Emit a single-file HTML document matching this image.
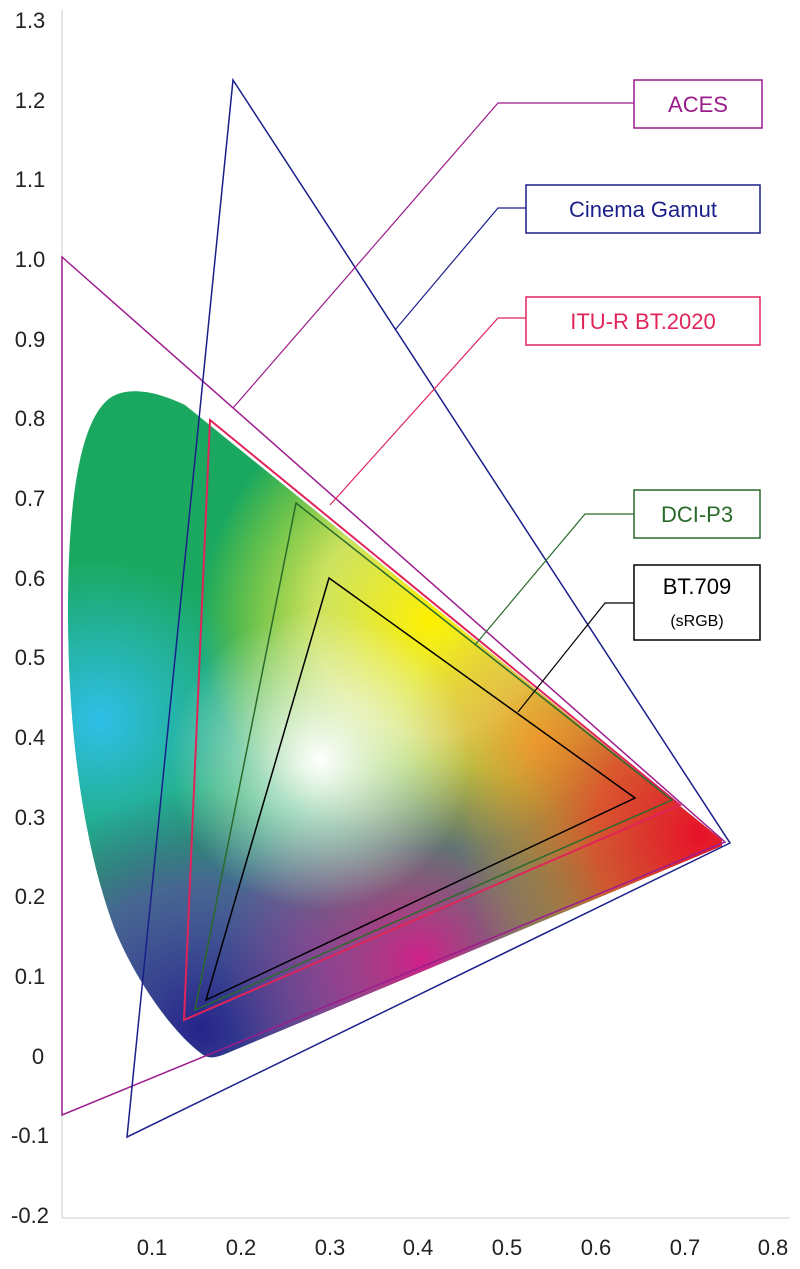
<!DOCTYPE html>
<html><head><meta charset="utf-8"><style>
html,body{margin:0;padding:0;background:#fff;}
svg{display:block;font-family:"Liberation Sans",sans-serif;}
</style></head><body>
<svg width="800" height="1269" viewBox="0 0 800 1269" xmlns="http://www.w3.org/2000/svg">
<defs>
<clipPath id="loc"><path d="M205,1056 C180,1040 140,990 115,930 C85,850 68,740 68,610 C68,500 80,420 110,398 C125,388 150,388 185,405 L722,840 L722,846 L225,1054 C215,1058 210,1058 205,1056 Z"/></clipPath>
<radialGradient id="gW" cx="320" cy="760" r="150" gradientUnits="userSpaceOnUse"><stop offset="0" stop-color="#fff"/><stop offset="1" stop-color="#fff" stop-opacity="0"/></radialGradient>
<radialGradient id="gY" cx="430" cy="620" r="230" gradientUnits="userSpaceOnUse"><stop offset="0" stop-color="#fff000"/><stop offset="0.5" stop-color="#f8f060" stop-opacity="0.8"/><stop offset="1" stop-color="#fff200" stop-opacity="0"/></radialGradient>
<radialGradient id="gO" cx="540" cy="740" r="140" gradientUnits="userSpaceOnUse"><stop offset="0" stop-color="#f7a030" stop-opacity="0.9"/><stop offset="1" stop-color="#f7a030" stop-opacity="0"/></radialGradient>
<radialGradient id="gR" cx="700" cy="835" r="240" gradientUnits="userSpaceOnUse"><stop offset="0" stop-color="#e8102a"/><stop offset="0.45" stop-color="#ee4a28" stop-opacity="0.85"/><stop offset="1" stop-color="#f0a020" stop-opacity="0"/></radialGradient>
<radialGradient id="gM" cx="420" cy="960" r="200" gradientUnits="userSpaceOnUse"><stop offset="0" stop-color="#d0208a"/><stop offset="1" stop-color="#c03090" stop-opacity="0"/></radialGradient>
<radialGradient id="gB" cx="200" cy="1030" r="240" gradientUnits="userSpaceOnUse"><stop offset="0" stop-color="#25238a"/><stop offset="0.6" stop-color="#5a4aa8" stop-opacity="0.7"/><stop offset="1" stop-color="#4a4aa0" stop-opacity="0"/></radialGradient>
<radialGradient id="gC" cx="100" cy="720" r="160" gradientUnits="userSpaceOnUse"><stop offset="0" stop-color="#2fbfe8"/><stop offset="1" stop-color="#2fbfe8" stop-opacity="0"/></radialGradient>
</defs>
<g clip-path="url(#loc)">
<rect x="0" y="380" width="760" height="700" fill="#1aa860"/>
<rect x="0" y="380" width="760" height="700" fill="url(#gC)"/>
<rect x="0" y="380" width="760" height="700" fill="url(#gB)"/>
<rect x="0" y="380" width="760" height="700" fill="url(#gY)"/>
<rect x="0" y="380" width="760" height="700" fill="url(#gO)"/>
<rect x="0" y="380" width="760" height="700" fill="url(#gM)"/>
<rect x="0" y="380" width="760" height="700" fill="url(#gR)"/>
<rect x="0" y="380" width="760" height="700" fill="url(#gW)"/>
</g>
<g fill="none" stroke-width="1.5">
<line x1="62" y1="10" x2="62" y2="1218" stroke="#ccc" stroke-width="1"/>
<line x1="62" y1="1218" x2="790" y2="1218" stroke="#ccc" stroke-width="1"/>
<polygon points="62,257 725,842 62,1115" stroke="#9b1c8c"/>
<polygon points="233,80 730,843 127,1137" stroke="#1a1f8a"/>
<polygon points="210,420 680,805 184,1020" stroke="#e0245a" stroke-width="2"/>
<polygon points="296,503 672,800 195,1010" stroke="#2a6a2a"/>
<polygon points="329,578 635,798 206,1000" stroke="#000"/>
<polyline points="634,103 498,103 233,408" stroke="#9b1c8c" stroke-width="1.2"/>
<polyline points="526,208 498,208 395,330" stroke="#1a1f8a" stroke-width="1.2"/>
<polyline points="526,318 498,318 330,505" stroke="#e0245a" stroke-width="1.2"/>
<polyline points="634,514 585,514 475,645" stroke="#2a6a2a" stroke-width="1.2"/>
<polyline points="634,603 605,603 518,712" stroke="#000" stroke-width="1.2"/>
<rect x="634" y="80" width="128" height="48" fill="#fff" stroke="#9b1c8c"/>
<rect x="526" y="185" width="234" height="48" fill="#fff" stroke="#1a1f8a"/>
<rect x="526" y="297" width="234" height="48" fill="#fff" stroke="#e0245a"/>
<rect x="634" y="490" width="126" height="48" fill="#fff" stroke="#2a6a2a"/>
<rect x="634" y="565" width="126" height="75" fill="#fff" stroke="#000"/>
</g>
<g font-size="22" text-anchor="middle">
<text x="698" y="112" fill="#9b1c8c">ACES</text>
<text x="643" y="217" fill="#1a1f8a">Cinema Gamut</text>
<text x="643" y="329" fill="#e0245a">ITU-R BT.2020</text>
<text x="697" y="522" fill="#2a6a2a">DCI-P3</text>
<text x="697" y="594" fill="#000">BT.709</text>
<text x="697" y="626" fill="#000" font-size="16">(sRGB)</text>
</g>
<g font-size="22" fill="#222" text-anchor="middle">
<text x="30" y="28">1.3</text><text x="30" y="108">1.2</text><text x="30" y="187">1.1</text>
<text x="30" y="267">1.0</text><text x="30" y="347">0.9</text><text x="30" y="426">0.8</text>
<text x="30" y="506">0.7</text><text x="30" y="586">0.6</text><text x="30" y="665">0.5</text>
<text x="30" y="745">0.4</text><text x="30" y="825">0.3</text><text x="30" y="904">0.2</text>
<text x="30" y="984">0.1</text><text x="38" y="1064">0</text><text x="30" y="1143">-0.1</text>
<text x="30" y="1223">-0.2</text>
<text x="152" y="1255">0.1</text><text x="241" y="1255">0.2</text><text x="330" y="1255">0.3</text>
<text x="418" y="1255">0.4</text><text x="507" y="1255">0.5</text><text x="596" y="1255">0.6</text>
<text x="685" y="1255">0.7</text><text x="773" y="1255">0.8</text>
</g>
</svg>
</body></html>
